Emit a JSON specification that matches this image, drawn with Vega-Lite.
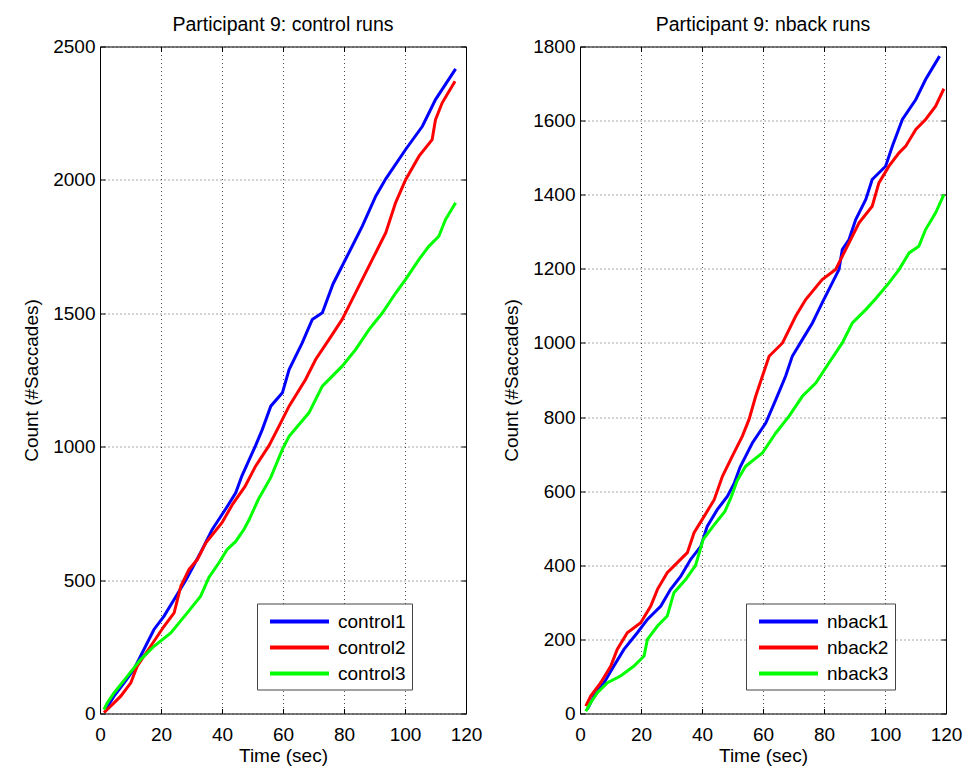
{
  "$schema": "https://vega.github.io/schema/vega-lite/v6.json",
  "background": "white",
  "padding": {"left": 22, "top": 14.5, "right": 5, "bottom": 5},
  "bounds": "flush",
  "spacing": 114,
  "datasets": {
    "control": [
      {"series": "control1", "t": 1.9, "v": 15}, {"series": "control1", "t": 4.6, "v": 65}, {"series": "control1", "t": 7.9, "v": 115}, {"series": "control1", "t": 11.1, "v": 165}, {"series": "control1", "t": 14.4, "v": 240}, {"series": "control1", "t": 17.7, "v": 315}, {"series": "control1", "t": 21, "v": 365}, {"series": "control1", "t": 24.3, "v": 427}, {"series": "control1", "t": 28.4, "v": 505}, {"series": "control1", "t": 33.3, "v": 610}, {"series": "control1", "t": 36.8, "v": 690}, {"series": "control1", "t": 41.4, "v": 770}, {"series": "control1", "t": 44.5, "v": 827}, {"series": "control1", "t": 46.5, "v": 890}, {"series": "control1", "t": 51, "v": 1004}, {"series": "control1", "t": 53.2, "v": 1064}, {"series": "control1", "t": 56, "v": 1152}, {"series": "control1", "t": 59.8, "v": 1202}, {"series": "control1", "t": 62, "v": 1289}, {"series": "control1", "t": 66.3, "v": 1389}, {"series": "control1", "t": 69.6, "v": 1477}, {"series": "control1", "t": 72.9, "v": 1502}, {"series": "control1", "t": 76.4, "v": 1610}, {"series": "control1", "t": 81.6, "v": 1727}, {"series": "control1", "t": 86, "v": 1827}, {"series": "control1", "t": 90.4, "v": 1939}, {"series": "control1", "t": 93.7, "v": 2004}, {"series": "control1", "t": 100.2, "v": 2114}, {"series": "control1", "t": 105.7, "v": 2201}, {"series": "control1", "t": 110, "v": 2301}, {"series": "control1", "t": 116.6, "v": 2416},
      {"series": "control2", "t": 1.3, "v": 3}, {"series": "control2", "t": 3.5, "v": 27}, {"series": "control2", "t": 6.8, "v": 65}, {"series": "control2", "t": 10.1, "v": 115}, {"series": "control2", "t": 12.2, "v": 177}, {"series": "control2", "t": 16.6, "v": 252}, {"series": "control2", "t": 21, "v": 327}, {"series": "control2", "t": 24.3, "v": 377}, {"series": "control2", "t": 26.5, "v": 477}, {"series": "control2", "t": 29.2, "v": 540}, {"series": "control2", "t": 31.9, "v": 577}, {"series": "control2", "t": 34.7, "v": 640}, {"series": "control2", "t": 40, "v": 715}, {"series": "control2", "t": 43.5, "v": 785}, {"series": "control2", "t": 47.5, "v": 850}, {"series": "control2", "t": 51, "v": 927}, {"series": "control2", "t": 55.4, "v": 1004}, {"series": "control2", "t": 58.7, "v": 1077}, {"series": "control2", "t": 62, "v": 1152}, {"series": "control2", "t": 67.4, "v": 1252}, {"series": "control2", "t": 70.7, "v": 1327}, {"series": "control2", "t": 75.1, "v": 1402}, {"series": "control2", "t": 79.4, "v": 1477}, {"series": "control2", "t": 82.7, "v": 1552}, {"series": "control2", "t": 86, "v": 1627}, {"series": "control2", "t": 90.4, "v": 1727}, {"series": "control2", "t": 93.7, "v": 1802}, {"series": "control2", "t": 96.9, "v": 1914}, {"series": "control2", "t": 100.2, "v": 2001}, {"series": "control2", "t": 104.6, "v": 2089}, {"series": "control2", "t": 108.9, "v": 2151}, {"series": "control2", "t": 110, "v": 2226}, {"series": "control2", "t": 112.2, "v": 2289}, {"series": "control2", "t": 116.4, "v": 2370},
      {"series": "control3", "t": 1.3, "v": 15}, {"series": "control3", "t": 2.4, "v": 40}, {"series": "control3", "t": 4.6, "v": 77}, {"series": "control3", "t": 9, "v": 140}, {"series": "control3", "t": 13.3, "v": 202}, {"series": "control3", "t": 17.7, "v": 252}, {"series": "control3", "t": 23.2, "v": 302}, {"series": "control3", "t": 28.6, "v": 377}, {"series": "control3", "t": 33, "v": 440}, {"series": "control3", "t": 35.7, "v": 510}, {"series": "control3", "t": 39, "v": 565}, {"series": "control3", "t": 41.7, "v": 615}, {"series": "control3", "t": 44.5, "v": 645}, {"series": "control3", "t": 47.2, "v": 690}, {"series": "control3", "t": 48.9, "v": 727}, {"series": "control3", "t": 51.9, "v": 802}, {"series": "control3", "t": 56, "v": 885}, {"series": "control3", "t": 59.8, "v": 990}, {"series": "control3", "t": 62, "v": 1039}, {"series": "control3", "t": 68.5, "v": 1127}, {"series": "control3", "t": 72.9, "v": 1227}, {"series": "control3", "t": 79.4, "v": 1302}, {"series": "control3", "t": 83.8, "v": 1364}, {"series": "control3", "t": 88.2, "v": 1439}, {"series": "control3", "t": 92.6, "v": 1502}, {"series": "control3", "t": 97, "v": 1577}, {"series": "control3", "t": 100.2, "v": 1627}, {"series": "control3", "t": 104.6, "v": 1702}, {"series": "control3", "t": 107.8, "v": 1751}, {"series": "control3", "t": 111.1, "v": 1789}, {"series": "control3", "t": 113.3, "v": 1852}, {"series": "control3", "t": 116.6, "v": 1914}
    ],
    "nback": [
      {"series": "nback1", "t": 2.4, "v": 11}, {"series": "nback1", "t": 4.6, "v": 47}, {"series": "nback1", "t": 7.9, "v": 83}, {"series": "nback1", "t": 11.1, "v": 128}, {"series": "nback1", "t": 14.4, "v": 173}, {"series": "nback1", "t": 18.8, "v": 218}, {"series": "nback1", "t": 22.1, "v": 254}, {"series": "nback1", "t": 26.5, "v": 290}, {"series": "nback1", "t": 29.7, "v": 335}, {"series": "nback1", "t": 33, "v": 370}, {"series": "nback1", "t": 36.3, "v": 416}, {"series": "nback1", "t": 39.6, "v": 451}, {"series": "nback1", "t": 41.7, "v": 505}, {"series": "nback1", "t": 45, "v": 550}, {"series": "nback1", "t": 48.3, "v": 586}, {"series": "nback1", "t": 50.5, "v": 620}, {"series": "nback1", "t": 52.5, "v": 665}, {"series": "nback1", "t": 56.5, "v": 730}, {"series": "nback1", "t": 60.9, "v": 784}, {"series": "nback1", "t": 64.2, "v": 847}, {"series": "nback1", "t": 67.4, "v": 910}, {"series": "nback1", "t": 69.6, "v": 964}, {"series": "nback1", "t": 72.9, "v": 1009}, {"series": "nback1", "t": 76.2, "v": 1054}, {"series": "nback1", "t": 79.4, "v": 1108}, {"series": "nback1", "t": 82.7, "v": 1162}, {"series": "nback1", "t": 84.9, "v": 1198}, {"series": "nback1", "t": 86, "v": 1252}, {"series": "nback1", "t": 88.2, "v": 1279}, {"series": "nback1", "t": 90.4, "v": 1333}, {"series": "nback1", "t": 93.7, "v": 1387}, {"series": "nback1", "t": 95.8, "v": 1441}, {"series": "nback1", "t": 100.2, "v": 1477}, {"series": "nback1", "t": 102.4, "v": 1531}, {"series": "nback1", "t": 105.7, "v": 1603}, {"series": "nback1", "t": 110.1, "v": 1657}, {"series": "nback1", "t": 113.3, "v": 1711}, {"series": "nback1", "t": 117.9, "v": 1774},
      {"series": "nback2", "t": 1.9, "v": 20}, {"series": "nback2", "t": 3.5, "v": 47}, {"series": "nback2", "t": 6.8, "v": 83}, {"series": "nback2", "t": 10.1, "v": 128}, {"series": "nback2", "t": 12.2, "v": 173}, {"series": "nback2", "t": 15.5, "v": 218}, {"series": "nback2", "t": 19.9, "v": 245}, {"series": "nback2", "t": 23.2, "v": 290}, {"series": "nback2", "t": 25.4, "v": 335}, {"series": "nback2", "t": 28.6, "v": 380}, {"series": "nback2", "t": 31.9, "v": 407}, {"series": "nback2", "t": 35.2, "v": 434}, {"series": "nback2", "t": 37.4, "v": 488}, {"series": "nback2", "t": 40.7, "v": 532}, {"series": "nback2", "t": 44, "v": 577}, {"series": "nback2", "t": 46.7, "v": 640}, {"series": "nback2", "t": 49.9, "v": 694}, {"series": "nback2", "t": 53.2, "v": 748}, {"series": "nback2", "t": 55.4, "v": 793}, {"series": "nback2", "t": 57.6, "v": 856}, {"series": "nback2", "t": 59.8, "v": 910}, {"series": "nback2", "t": 62, "v": 964}, {"series": "nback2", "t": 66.4, "v": 1000}, {"series": "nback2", "t": 70.7, "v": 1072}, {"series": "nback2", "t": 74, "v": 1117}, {"series": "nback2", "t": 79.4, "v": 1171}, {"series": "nback2", "t": 83.8, "v": 1198}, {"series": "nback2", "t": 87.1, "v": 1252}, {"series": "nback2", "t": 91.5, "v": 1324}, {"series": "nback2", "t": 95.8, "v": 1369}, {"series": "nback2", "t": 98, "v": 1432}, {"series": "nback2", "t": 101.3, "v": 1477}, {"series": "nback2", "t": 104.6, "v": 1513}, {"series": "nback2", "t": 106.8, "v": 1531}, {"series": "nback2", "t": 110.1, "v": 1576}, {"series": "nback2", "t": 113.3, "v": 1603}, {"series": "nback2", "t": 116.6, "v": 1639}, {"series": "nback2", "t": 119.3, "v": 1686},
      {"series": "nback3", "t": 1.9, "v": 6}, {"series": "nback3", "t": 3.5, "v": 29}, {"series": "nback3", "t": 5.7, "v": 56}, {"series": "nback3", "t": 9, "v": 83}, {"series": "nback3", "t": 13.3, "v": 101}, {"series": "nback3", "t": 17.7, "v": 128}, {"series": "nback3", "t": 21, "v": 155}, {"series": "nback3", "t": 22.1, "v": 200}, {"series": "nback3", "t": 25.4, "v": 236}, {"series": "nback3", "t": 28.6, "v": 263}, {"series": "nback3", "t": 30.8, "v": 326}, {"series": "nback3", "t": 34.7, "v": 362}, {"series": "nback3", "t": 37.9, "v": 400}, {"series": "nback3", "t": 40.4, "v": 470}, {"series": "nback3", "t": 43.6, "v": 505}, {"series": "nback3", "t": 47.5, "v": 545}, {"series": "nback3", "t": 49.6, "v": 585}, {"series": "nback3", "t": 51.5, "v": 628}, {"series": "nback3", "t": 54.3, "v": 667}, {"series": "nback3", "t": 59.8, "v": 703}, {"series": "nback3", "t": 64.2, "v": 757}, {"series": "nback3", "t": 68.5, "v": 802}, {"series": "nback3", "t": 72.9, "v": 856}, {"series": "nback3", "t": 77.3, "v": 892}, {"series": "nback3", "t": 81.6, "v": 946}, {"series": "nback3", "t": 86, "v": 1000}, {"series": "nback3", "t": 89.3, "v": 1054}, {"series": "nback3", "t": 93.7, "v": 1090}, {"series": "nback3", "t": 97, "v": 1120}, {"series": "nback3", "t": 101.3, "v": 1162}, {"series": "nback3", "t": 104.6, "v": 1198}, {"series": "nback3", "t": 107.9, "v": 1243}, {"series": "nback3", "t": 111.1, "v": 1261}, {"series": "nback3", "t": 113.3, "v": 1306}, {"series": "nback3", "t": 116.6, "v": 1351}, {"series": "nback3", "t": 119.3, "v": 1400}
    ]
  },
  "hconcat": [
    {
      "title": "Participant 9: control runs",
      "width": 366,
      "height": 667,
      "data": {"name": "control"},
      "layer": [
        {
          "mark": {"type": "line", "strokeWidth": 3, "clip": true},
          "encoding": {
            "x": {"field": "t", "type": "quantitative", "title": "Time (sec)", "scale": {"domain": [0, 120], "nice": false}, "axis": {"values": [0, 20, 40, 60, 80, 100, 120]}},
            "y": {"field": "v", "type": "quantitative", "title": "Count (#Saccades)", "scale": {"domain": [0, 2500], "nice": false}, "axis": {"values": [0, 500, 1000, 1500, 2000, 2500]}},
            "color": {"field": "series", "type": "nominal", "scale": {"domain": ["control1", "control2", "control3"], "range": ["#0000ff", "#ff0000", "#00ff00"]},
              "legend": {"orient": "none", "legendX": 157, "legendY": 557, "title": null}},
            "order": {"field": "t", "type": "quantitative"}
          }
        },
        {
          "mark": {"type": "line", "strokeOpacity": 0, "clip": true},
          "encoding": {
            "x": {"field": "t", "type": "quantitative", "axis": {"orient": "top", "values": [0, 20, 40, 60, 80, 100, 120], "labels": false, "title": null, "grid": false}},
            "y": {"field": "v", "type": "quantitative", "axis": {"orient": "right", "values": [0, 500, 1000, 1500, 2000, 2500], "labels": false, "title": null, "grid": false}},
            "detail": {"field": "series", "type": "nominal"}
          }
        }
      ],
      "resolve": {"axis": {"x": "independent", "y": "independent"}}
    },
    {
      "title": "Participant 9: nback runs",
      "width": 366,
      "height": 667,
      "data": {"name": "nback"},
      "layer": [
        {
          "mark": {"type": "line", "strokeWidth": 3, "clip": true},
          "encoding": {
            "x": {"field": "t", "type": "quantitative", "title": "Time (sec)", "scale": {"domain": [0, 120], "nice": false}, "axis": {"values": [0, 20, 40, 60, 80, 100, 120]}},
            "y": {"field": "v", "type": "quantitative", "title": "Count (#Saccades)", "scale": {"domain": [0, 1800], "nice": false}, "axis": {"values": [0, 200, 400, 600, 800, 1000, 1200, 1400, 1600, 1800]}},
            "color": {"field": "series", "type": "nominal", "scale": {"domain": ["nback1", "nback2", "nback3"], "range": ["#0000ff", "#ff0000", "#00ff00"]},
              "legend": {"orient": "none", "legendX": 166, "legendY": 557, "title": null}},
            "order": {"field": "t", "type": "quantitative"}
          }
        },
        {
          "mark": {"type": "line", "strokeOpacity": 0, "clip": true},
          "encoding": {
            "x": {"field": "t", "type": "quantitative", "axis": {"orient": "top", "values": [0, 20, 40, 60, 80, 100, 120], "labels": false, "title": null, "grid": false}},
            "y": {"field": "v", "type": "quantitative", "axis": {"orient": "right", "values": [0, 200, 400, 600, 800, 1000, 1200, 1400, 1600, 1800], "labels": false, "title": null, "grid": false}},
            "detail": {"field": "series", "type": "nominal"}
          }
        }
      ],
      "resolve": {"axis": {"x": "independent", "y": "independent"}}
    }
  ],
  "resolve": {"scale": {"color": "independent", "y": "independent", "x": "independent"}, "legend": {"color": "independent"}},
  "config": {
    "font": "Liberation Sans",
    "view": {"stroke": "#000000", "strokeWidth": 1},
    "title": {"fontSize": 19.5, "fontWeight": "normal", "color": "#000000", "offset": 2},
    "axis": {
      "labelFontSize": 19, "titleFontSize": 19, "titleFontWeight": "normal",
      "labelColor": "#000000", "titleColor": "#000000", "format": "d",
      "domain": false, "ticks": true, "tickSize": -5, "tickColor": "#000000",
      "gridColor": "#000000", "gridDash": [1, 3], "gridOpacity": 0.7, "gridWidth": 1,
      "labelFlush": false, "labelOverlap": false
    },
    "axisBottom": {"labelPadding": 17, "titlePadding": 2},
    "axisLeft": {"labelPadding": 10, "titlePadding": 11},
    "legend": {
      "symbolType": "M-0.5,0H5.4", "symbolSize": 400, "symbolStrokeWidth": 4, "labelFontSize": 19, "labelColor": "#000000",
      "strokeColor": "#444444", "fillColor": "#ffffff", "padding": 6, "rowPadding": 4, "labelOffset": 51
    }
  }
}
